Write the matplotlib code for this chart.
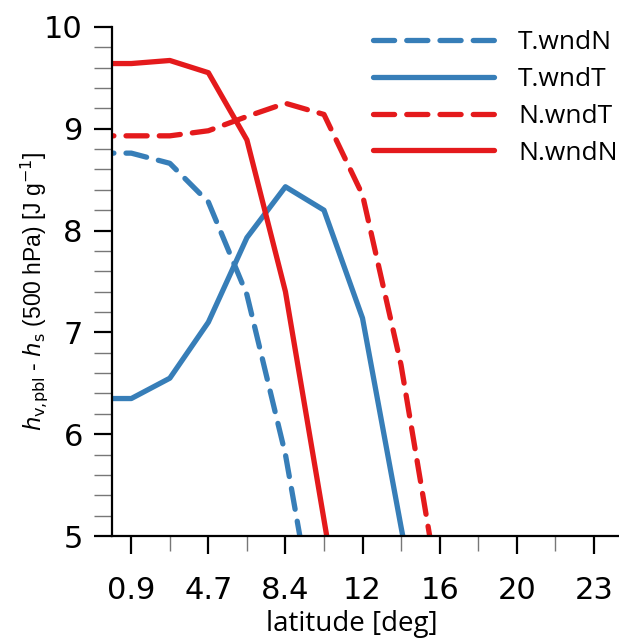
import matplotlib
matplotlib.use("Agg")
import matplotlib.pyplot as plt
import numpy as np

# latitude grid (deg) and the four experiments
lat = [-0.9375, 0.9375, 2.8125, 4.6875, 6.5625, 8.4375, 10.3125, 12.1875, 14.0625, 15.9375]
T_wndN = [8.76, 8.76, 8.66, 8.28, 7.37, 5.80, 3.66, np.nan, np.nan, np.nan]
T_wndT = [6.35, 6.35, 6.55, 7.10, 7.93, 8.43, 8.20, 7.14, 5.09, 3.10]
N_wndT = [8.93, 8.93, 8.93, 8.98, 9.12, 9.25, 9.14, 8.35, 6.68, 4.42]
N_wndN = [9.64, 9.64, 9.67, 9.55, 8.89, 7.40, 5.16, 2.92, np.nan, np.nan]

xticks = [0.9375, 4.6875, 8.4375, 12.1875, 15.9375, 19.6875, 23.4375]
xticklabels = ["0.9", "4.7", "8.4", "12", "16", "20", "23"]
xminor = [2.8125, 6.5625, 10.3125, 14.0625, 17.8125, 21.5625]

blue = "#377eb8"
red = "#e41a1c"

plt.rcParams["font.family"] = ["DejaVu Sans"]

fig = plt.figure(figsize=(6.19, 6.4), dpi=100)
ax = fig.add_axes([0.181, 0.1625, 0.83, 0.7955])

lw = 3.8
dash = (0, (4.0, 2.3))
ax.plot(lat, T_wndN, color=blue, lw=lw, ls=dash, dash_capstyle="round",
        solid_capstyle="round", label="T.wndN")
ax.plot(lat, T_wndT, color=blue, lw=lw, solid_capstyle="round", label="T.wndT")
ax.plot(lat, N_wndT, color=red, lw=lw, ls=dash, dash_capstyle="round",
        solid_capstyle="round", label="N.wndT")
ax.plot(lat, N_wndN, color=red, lw=lw, solid_capstyle="round", label="N.wndN")

ax.set_xlim(0, 25)
ax.set_ylim(5, 10)
ax.set_xticks(xticks)
ax.set_xticklabels(xticklabels)
ax.set_xticks(xminor, minor=True)
ax.set_yticks([5, 6, 7, 8, 9, 10])
ax.set_yticks(np.arange(5, 10.01, 0.2), minor=True)

for s in ["top", "right"]:
    ax.spines[s].set_visible(False)
for s in ["left", "bottom"]:
    ax.spines[s].set_linewidth(1.6)

ax.tick_params(axis="both", which="major", length=13, width=1.6, labelsize=22,
               color="black")
ax.tick_params(axis="y", which="major", pad=8)
ax.tick_params(axis="x", which="major", pad=16)
ax.tick_params(axis="both", which="minor", length=13, width=1.0, color="#777777")
ax.tick_params(axis="x", which="minor", length=11)

ax.set_xlabel("latitude [deg]", fontsize=20, family=["Open Sans", "DejaVu Sans"])
ax.xaxis.set_label_coords(0.467, -0.145)
ax.set_ylabel(r"$h_{\mathrm{v{,}pbl}}$ - $h_{\mathrm{s}}$ (500 hPa) [J g$^{\mathrm{-1}}$]",
              fontsize=16.5, family=["Liberation Sans", "DejaVu Sans"])
ax.yaxis.set_label_coords(-0.12, 0.48)

leg = ax.legend(loc="upper right", bbox_to_anchor=(1.02, 1.03), frameon=False,
                handlelength=4.6, handletextpad=0.9, labelspacing=0.45,
                borderaxespad=0.3,
                prop={"family": ["Open Sans", "DejaVu Sans"], "size": 19})

fig.savefig("out.png", dpi=100)
